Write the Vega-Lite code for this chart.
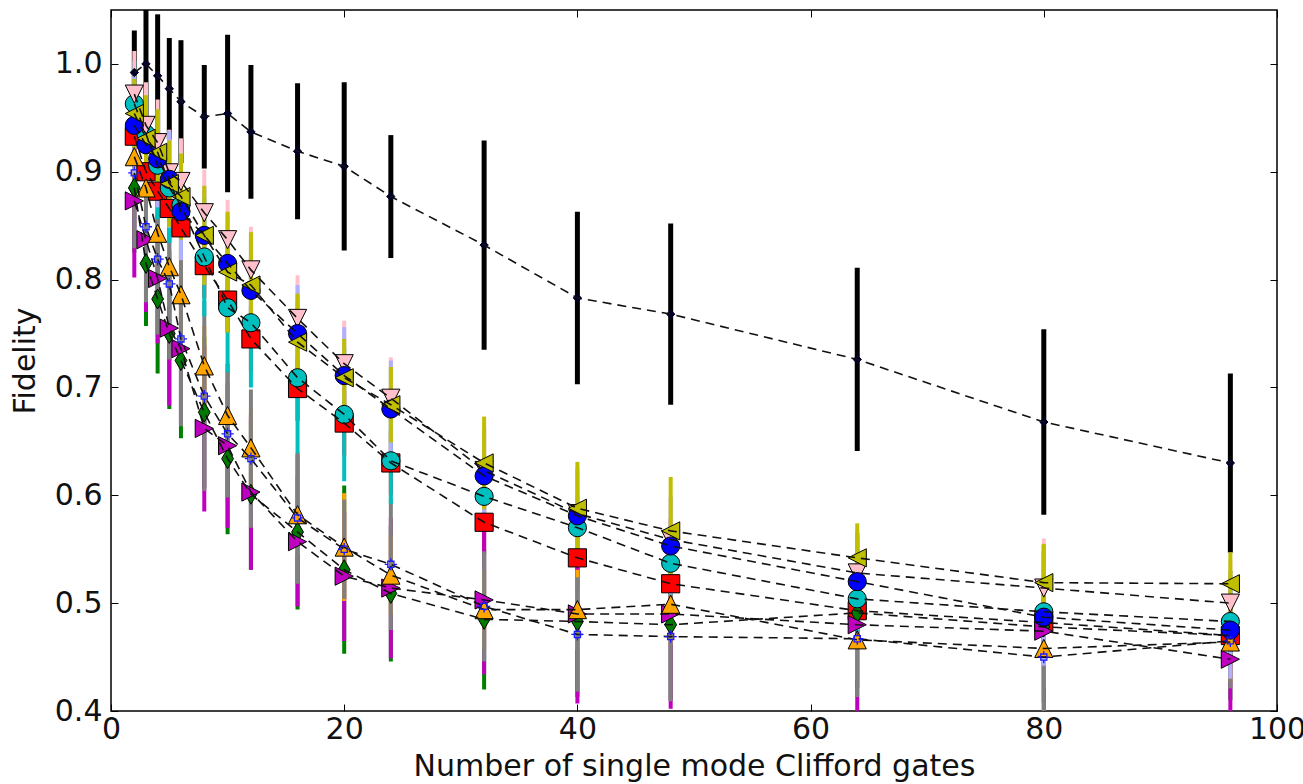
{
  "$schema": "https://vega.github.io/schema/vega-lite/v6.json",
  "width": 1166,
  "height": 701,
  "autosize": {"type": "none"},
  "padding": {"left": 111, "top": 10, "right": 26, "bottom": 73},
  "background": "white",
  "config": {
    "view": {"stroke": "black", "strokeWidth": 1.5},
    "axis": {"grid": false, "domain": false, "tickColor": "black", "tickWidth": 1, "tickSize": -7,
             "labelFont": "DejaVu Sans", "labelFontSize": 30, "labelColor": "#111",
             "titleFont": "DejaVu Sans", "titleFontSize": 30, "titleFontWeight": "normal", "titleColor": "#111"}
  },
  "datasets": {
    "d": [
      {"s":"k","x":2,"y":0.992,"e":0.039},{"s":"k","x":3,"y":1.000,"e":0.065},{"s":"k","x":4,"y":0.989,"e":0.057},{"s":"k","x":5,"y":0.977,"e":0.047},{"s":"k","x":6,"y":0.965,"e":0.057},{"s":"k","x":8,"y":0.951,"e":0.048},{"s":"k","x":10,"y":0.954,"e":0.073},{"s":"k","x":12,"y":0.937,"e":0.062},{"s":"k","x":16,"y":0.919,"e":0.063},{"s":"k","x":20,"y":0.905,"e":0.078},{"s":"k","x":24,"y":0.877,"e":0.057},{"s":"k","x":32,"y":0.832,"e":0.097},{"s":"k","x":40,"y":0.783,"e":0.080},{"s":"k","x":48,"y":0.768,"e":0.084},{"s":"k","x":64,"y":0.726,"e":0.085},{"s":"k","x":80,"y":0.668,"e":0.086},{"s":"k","x":96,"y":0.630,"e":0.083},
      {"s":"r","x":2,"y":0.933,"e":0.03},{"s":"r","x":3,"y":0.900,"e":0.03},{"s":"r","x":4,"y":0.882,"e":0.03},{"s":"r","x":5,"y":0.866,"e":0.03},{"s":"r","x":6,"y":0.848,"e":0.03},{"s":"r","x":8,"y":0.813,"e":0.03},{"s":"r","x":10,"y":0.781,"e":0.03},{"s":"r","x":12,"y":0.745,"e":0.03},{"s":"r","x":16,"y":0.699,"e":0.03},{"s":"r","x":20,"y":0.667,"e":0.03},{"s":"r","x":24,"y":0.630,"e":0.03},{"s":"r","x":32,"y":0.575,"e":0.03},{"s":"r","x":40,"y":0.542,"e":0.03},{"s":"r","x":48,"y":0.518,"e":0.03},{"s":"r","x":64,"y":0.493,"e":0.03},{"s":"r","x":80,"y":0.482,"e":0.03},{"s":"r","x":96,"y":0.470,"e":0.03},
      {"s":"g","x":2,"y":0.885,"e":0.060},{"s":"g","x":3,"y":0.815,"e":0.058},{"s":"g","x":4,"y":0.782,"e":0.069},{"s":"g","x":5,"y":0.750,"e":0.070},{"s":"g","x":6,"y":0.725,"e":0.072},{"s":"g","x":8,"y":0.677,"e":0.070},{"s":"g","x":10,"y":0.634,"e":0.070},{"s":"g","x":12,"y":0.601,"e":0.070},{"s":"g","x":16,"y":0.566,"e":0.072},{"s":"g","x":20,"y":0.531,"e":0.078},{"s":"g","x":24,"y":0.509,"e":0.063},{"s":"g","x":32,"y":0.485,"e":0.065},{"s":"g","x":40,"y":0.483,"e":0.070},{"s":"g","x":48,"y":0.480,"e":0.070},{"s":"g","x":64,"y":0.491,"e":0.070},{"s":"g","x":80,"y":0.478,"e":0.070},{"s":"g","x":96,"y":0.470,"e":0.060},
      {"s":"m","x":2,"y":0.873,"e":0.071},{"s":"m","x":3,"y":0.837,"e":0.067},{"s":"m","x":4,"y":0.801,"e":0.060},{"s":"m","x":5,"y":0.755,"e":0.072},{"s":"m","x":6,"y":0.736,"e":0.070},{"s":"m","x":8,"y":0.662,"e":0.077},{"s":"m","x":10,"y":0.646,"e":0.076},{"s":"m","x":12,"y":0.603,"e":0.072},{"s":"m","x":16,"y":0.557,"e":0.060},{"s":"m","x":20,"y":0.525,"e":0.060},{"s":"m","x":24,"y":0.514,"e":0.065},{"s":"m","x":32,"y":0.503,"e":0.069},{"s":"m","x":40,"y":0.490,"e":0.083},{"s":"m","x":48,"y":0.490,"e":0.088},{"s":"m","x":64,"y":0.480,"e":0.085},{"s":"m","x":80,"y":0.474,"e":0.080},{"s":"m","x":96,"y":0.448,"e":0.060},
      {"s":"o","x":2,"y":0.914,"e":0.037},{"s":"o","x":3,"y":0.885,"e":0.037},{"s":"o","x":4,"y":0.843,"e":0.037},{"s":"o","x":5,"y":0.812,"e":0.037},{"s":"o","x":6,"y":0.786,"e":0.037},{"s":"o","x":8,"y":0.720,"e":0.037},{"s":"o","x":10,"y":0.674,"e":0.037},{"s":"o","x":12,"y":0.644,"e":0.037},{"s":"o","x":16,"y":0.582,"e":0.037},{"s":"o","x":20,"y":0.552,"e":0.050},{"s":"o","x":24,"y":0.526,"e":0.037},{"s":"o","x":32,"y":0.494,"e":0.037},{"s":"o","x":40,"y":0.494,"e":0.037},{"s":"o","x":48,"y":0.499,"e":0.037},{"s":"o","x":64,"y":0.466,"e":0.037},{"s":"o","x":80,"y":0.458,"e":0.037},{"s":"o","x":96,"y":0.464,"e":0.037},
      {"s":"b+","x":2,"y":0.899,"e":0.070},{"s":"b+","x":3,"y":0.849,"e":0.070},{"s":"b+","x":4,"y":0.819,"e":0.070},{"s":"b+","x":5,"y":0.796,"e":0.070},{"s":"b+","x":6,"y":0.745,"e":0.081},{"s":"b+","x":8,"y":0.692,"e":0.088},{"s":"b+","x":10,"y":0.657,"e":0.059},{"s":"b+","x":12,"y":0.634,"e":0.064},{"s":"b+","x":16,"y":0.579,"e":0.061},{"s":"b+","x":20,"y":0.550,"e":0.046},{"s":"b+","x":24,"y":0.536,"e":0.061},{"s":"b+","x":32,"y":0.497,"e":0.051},{"s":"b+","x":40,"y":0.471,"e":0.053},{"s":"b+","x":48,"y":0.469,"e":0.060},{"s":"b+","x":64,"y":0.467,"e":0.054},{"s":"b+","x":80,"y":0.450,"e":0.055},{"s":"b+","x":96,"y":0.465,"e":0.044},
      {"s":"c","x":2,"y":0.963,"e":0.040},{"s":"c","x":3,"y":0.935,"e":0.041},{"s":"c","x":4,"y":0.906,"e":0.050},{"s":"c","x":5,"y":0.885,"e":0.051},{"s":"c","x":6,"y":0.869,"e":0.050},{"s":"c","x":8,"y":0.821,"e":0.055},{"s":"c","x":10,"y":0.774,"e":0.060},{"s":"c","x":12,"y":0.760,"e":0.060},{"s":"c","x":16,"y":0.709,"e":0.070},{"s":"c","x":20,"y":0.675,"e":0.062},{"s":"c","x":24,"y":0.632,"e":0.040},{"s":"c","x":32,"y":0.599,"e":0.030},{"s":"c","x":40,"y":0.570,"e":0.030},{"s":"c","x":48,"y":0.537,"e":0.030},{"s":"c","x":64,"y":0.504,"e":0.030},{"s":"c","x":80,"y":0.492,"e":0.030},{"s":"c","x":96,"y":0.483,"e":0.030},
      {"s":"p","x":2,"y":0.972,"e":0.040},{"s":"p","x":3,"y":0.943,"e":0.040},{"s":"p","x":4,"y":0.927,"e":0.040},{"s":"p","x":5,"y":0.899,"e":0.040},{"s":"p","x":6,"y":0.891,"e":0.040},{"s":"p","x":8,"y":0.862,"e":0.040},{"s":"p","x":10,"y":0.837,"e":0.037},{"s":"p","x":12,"y":0.809,"e":0.040},{"s":"p","x":16,"y":0.764,"e":0.040},{"s":"p","x":20,"y":0.722,"e":0.040},{"s":"p","x":24,"y":0.690,"e":0.038},{"s":"p","x":32,"y":0.623,"e":0.040},{"s":"p","x":40,"y":0.583,"e":0.040},{"s":"p","x":48,"y":0.559,"e":0.040},{"s":"p","x":64,"y":0.528,"e":0.040},{"s":"p","x":80,"y":0.514,"e":0.046},{"s":"p","x":96,"y":0.500,"e":0.040},
      {"s":"b","x":2,"y":0.943,"e":0.045},{"s":"b","x":3,"y":0.925,"e":0.045},{"s":"b","x":4,"y":0.912,"e":0.045},{"s":"b","x":5,"y":0.893,"e":0.045},{"s":"b","x":6,"y":0.863,"e":0.045},{"s":"b","x":8,"y":0.841,"e":0.045},{"s":"b","x":10,"y":0.815,"e":0.045},{"s":"b","x":12,"y":0.790,"e":0.045},{"s":"b","x":16,"y":0.750,"e":0.045},{"s":"b","x":20,"y":0.711,"e":0.045},{"s":"b","x":24,"y":0.680,"e":0.045},{"s":"b","x":32,"y":0.618,"e":0.045},{"s":"b","x":40,"y":0.581,"e":0.045},{"s":"b","x":48,"y":0.553,"e":0.045},{"s":"b","x":64,"y":0.520,"e":0.045},{"s":"b","x":80,"y":0.487,"e":0.045},{"s":"b","x":96,"y":0.475,"e":0.045},
      {"s":"y","x":2,"y":0.954,"e":0.032},{"s":"y","x":3,"y":0.931,"e":0.040},{"s":"y","x":4,"y":0.918,"e":0.040},{"s":"y","x":5,"y":0.889,"e":0.040},{"s":"y","x":6,"y":0.877,"e":0.040},{"s":"y","x":8,"y":0.841,"e":0.046},{"s":"y","x":10,"y":0.807,"e":0.056},{"s":"y","x":12,"y":0.795,"e":0.049},{"s":"y","x":16,"y":0.742,"e":0.045},{"s":"y","x":20,"y":0.709,"e":0.036},{"s":"y","x":24,"y":0.684,"e":0.035},{"s":"y","x":32,"y":0.630,"e":0.043},{"s":"y","x":40,"y":0.588,"e":0.043},{"s":"y","x":48,"y":0.567,"e":0.050},{"s":"y","x":64,"y":0.542,"e":0.032},{"s":"y","x":80,"y":0.519,"e":0.036},{"s":"y","x":96,"y":0.518,"e":0.029}
    ]
  },
  "data": {"name": "d"},
  "resolve": {"axis": {"x": "independent", "y": "independent"}},
  "layer": [
    {
      "transform": [{"filter": "datum.s === 'k'"}],
      "mark": {"type": "errorbar", "thickness": 5, "color": "black", "clip": true},
      "encoding": {
        "x": {"field": "x", "type": "quantitative", "scale": {"domain": [0, 100], "nice": false},
              "axis": {"orient": "bottom", "values": [0, 20, 40, 60, 80, 100], "labelPadding": 10, "labelFlush": false,
                       "title": "Number of single mode Clifford gates", "titlePadding": 7}},
        "y": {"field": "y", "type": "quantitative", "scale": {"domain": [0.4, 1.05], "nice": false, "zero": false},
              "axis": {"orient": "left", "values": [0.4, 0.5, 0.6, 0.7, 0.8, 0.9, 1.0], "format": ".1f", "labelPadding": 16, "labelFlush": false,
                       "title": "Fidelity", "titlePadding": 14}},
        "yError": {"field": "e"}
      }
    },
    {
      "transform": [{"filter": "datum.s !== 'k'"}],
      "mark": {"type": "errorbar", "thickness": 4, "clip": true},
      "encoding": {
        "x": {"field": "x", "type": "quantitative", "scale": {"domain": [0, 100], "nice": false}, "axis": null},
        "y": {"field": "y", "type": "quantitative", "scale": {"domain": [0.4, 1.05], "nice": false, "zero": false}, "axis": null},
        "yError": {"field": "e"},
        "color": {"field": "s", "type": "nominal", "legend": null,
                  "scale": {"domain": ["r", "g", "m", "o", "b+", "c", "p", "b", "y"],
                            "range": ["#ff0000", "#008000", "#c000c0", "#ffa500", "#808080", "#00bfbf", "#ffc0cb", "#b0b0ff", "#bfbf00"]}}
      }
    },
    {
      "transform": [{"filter": "datum.s !== 'k' && datum.s !== 'b+'"}],
      "mark": {"type": "point", "filled": true, "stroke": "black", "strokeWidth": 1, "opacity": 1, "size": 330, "clip": true},
      "encoding": {
        "x": {"field": "x", "type": "quantitative", "scale": {"domain": [0, 100], "nice": false}, "axis": null},
        "y": {"field": "y", "type": "quantitative", "scale": {"domain": [0.4, 1.05], "nice": false, "zero": false}, "axis": null},
        "fill": {"field": "s", "type": "nominal", "legend": null,
                 "scale": {"domain": ["r", "g", "m", "o", "c", "p", "b", "y"],
                           "range": ["#ff0000", "#007a00", "#c000c0", "#ffa500", "#00bfbf", "#ffc0cb", "#0000ff", "#bfbf00"]}},
        "shape": {"field": "s", "type": "nominal", "legend": null,
                  "scale": {"domain": ["r", "g", "m", "o", "c", "p", "b", "y"],
                            "range": ["square", "M0,-1.1L0.65,0L0,1.1L-0.65,0Z", "M1,0L-1,-1L-1,1Z", "M0,-1L1,1L-1,1Z", "circle", "M0,1L-1,-1L1,-1Z", "circle", "M-1,0L1,-1L1,1Z"]}}
      }
    },
    {
      "transform": [{"filter": "datum.s === 'k'"}],
      "mark": {"type": "point", "filled": true, "fill": "#000028", "stroke": "#000028", "strokeWidth": 1, "opacity": 1, "size": 70, "shape": "diamond", "clip": true},
      "encoding": {
        "x": {"field": "x", "type": "quantitative", "scale": {"domain": [0, 100], "nice": false}, "axis": null},
        "y": {"field": "y", "type": "quantitative", "scale": {"domain": [0.4, 1.05], "nice": false, "zero": false}, "axis": null}
      }
    },
    {
      "mark": {"type": "line", "color": "#111", "strokeWidth": 1.6, "strokeDash": [9, 6], "clip": true},
      "encoding": {
        "x": {"field": "x", "type": "quantitative", "scale": {"domain": [0, 100], "nice": false},
              "axis": {"orient": "top", "values": [0, 20, 40, 60, 80, 100], "labels": false, "title": null}},
        "y": {"field": "y", "type": "quantitative", "scale": {"domain": [0.4, 1.05], "nice": false, "zero": false},
              "axis": {"orient": "right", "values": [0.4, 0.5, 0.6, 0.7, 0.8, 0.9, 1.0], "labels": false, "title": null}},
        "detail": {"field": "s", "type": "nominal"}
      }
    },
    {
      "transform": [{"filter": "datum.s === 'b+'"}],
      "mark": {"type": "point", "filled": false, "stroke": "#1a1aff", "strokeWidth": 1.3, "opacity": 1, "size": 150, "clip": true,
               "shape": "M-0.5,-0.5L0.5,-0.5L0.5,0.5L-0.5,0.5Z M-1,0L-0.5,0 M0.5,0L1,0 M0,-1L0,-0.5 M0,0.5L0,1"},
      "encoding": {
        "x": {"field": "x", "type": "quantitative", "scale": {"domain": [0, 100], "nice": false}, "axis": null},
        "y": {"field": "y", "type": "quantitative", "scale": {"domain": [0.4, 1.05], "nice": false, "zero": false}, "axis": null}
      }
    }
  ]
}
